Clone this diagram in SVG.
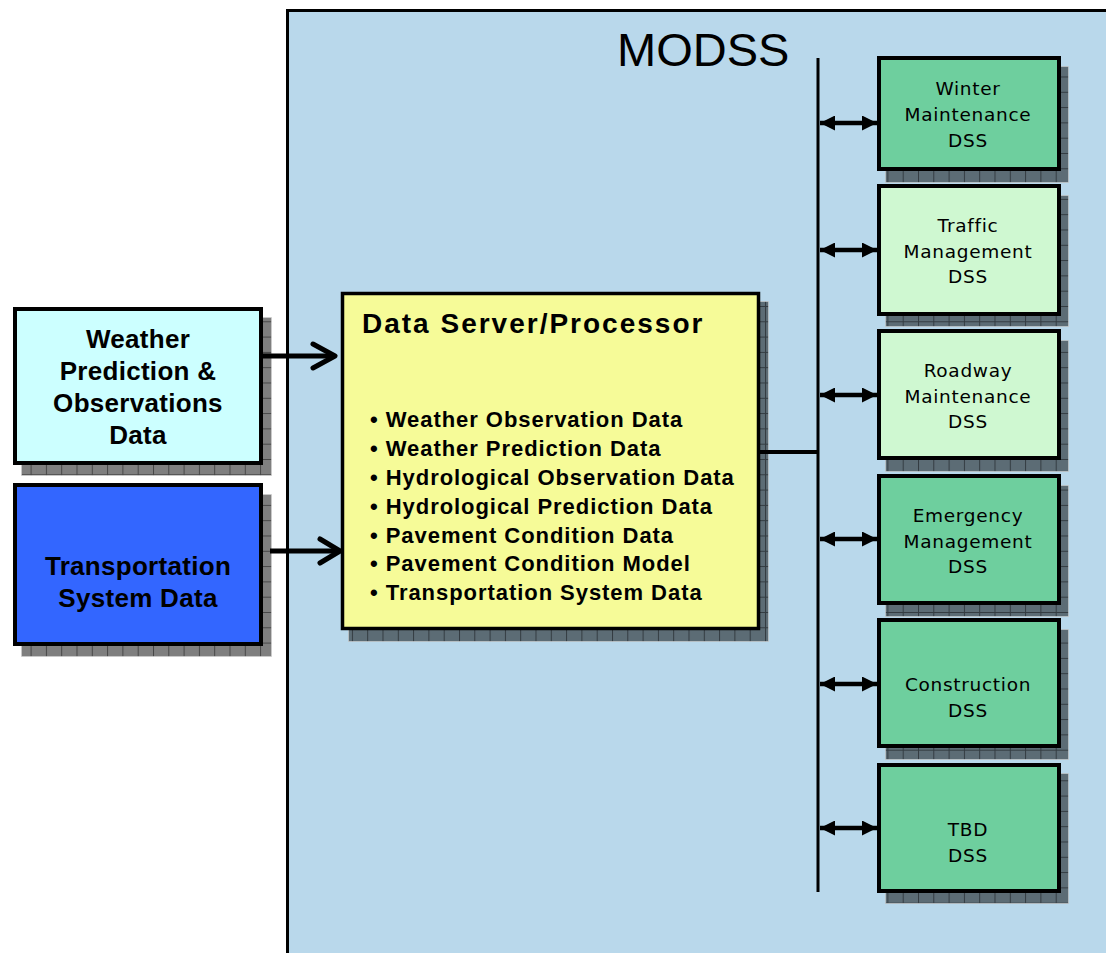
<svg xmlns="http://www.w3.org/2000/svg" width="1106" height="953" viewBox="0 0 1106 953">
<defs>
<pattern id="grid" patternUnits="userSpaceOnUse" width="15.3" height="15.3">
<rect width="15.3" height="15.3" fill="#000" fill-opacity="0.5"/>
<path d="M0 0.5H15.3M0.5 0V15.3" stroke="#000" stroke-opacity="0.45" stroke-width="1" fill="none"/>
</pattern>
<marker id="ah" viewBox="0 0 15 15" refX="15" refY="7.5" markerWidth="15" markerHeight="15" markerUnits="userSpaceOnUse" orient="auto-start-reverse">
<path d="M0 0L15 7.5L0 15Z" fill="#000"/>
</marker>
<style>
.shadow{fill:url(#grid);stroke:#d0d0d0;stroke-opacity:0.6;stroke-width:1}
.box{stroke:#000;stroke-width:4}
.big{font-family:"Liberation Sans",Arial,sans-serif;font-weight:bold;font-size:26px;letter-spacing:0.3px;text-anchor:middle;fill:#000}
.title{font-family:"Liberation Sans",Arial,sans-serif;font-weight:bold;font-size:28px;letter-spacing:2px;fill:#000}
.item{font-family:"Liberation Sans",Arial,sans-serif;font-weight:bold;font-size:22px;letter-spacing:0.95px;fill:#000}
.dss{font-family:"DejaVu Sans",Verdana,sans-serif;font-size:18.5px;letter-spacing:0.7px;text-anchor:middle;fill:#000}
.dark{fill:#6ECF9E}
.light{fill:#CFF8D1}
.conn{stroke:#000;fill:none}
</style>
</defs>
<rect width="1106" height="953" fill="#fff"/>
<g id="modss">
<rect x="287" y="10" width="819" height="943" fill="#B9D8EB"/>
<path d="M287.5 953V10.5H1106" fill="none" stroke="#000" stroke-width="3"/>
<text x="617" y="66" font-family="'Liberation Sans',Arial,sans-serif" font-size="47">MODSS</text>
</g>
<g id="weather">
<rect class="shadow" x="21.5" y="317.5" width="250" height="158"/>
<rect class="box" x="15" y="309" width="246" height="154" fill="#CCFFFF"/>
<text class="big" x="138" y="347.5">Weather</text>
<text class="big" x="138" y="379.5">Prediction &amp;</text>
<text class="big" x="138" y="411.5">Observations</text>
<text class="big" x="138" y="443.5">Data</text>
</g>
<g id="transport">
<rect class="shadow" x="21.5" y="494.5" width="250" height="162"/>
<rect class="box" x="15" y="485" width="246" height="159" fill="#3366FF"/>
<text class="big" x="138" y="575">Transportation</text>
<text class="big" x="138" y="607">System Data</text>
</g>
<g id="server">
<rect class="shadow" x="348.5" y="301.5" width="420" height="340"/>
<rect x="342.5" y="293.5" width="416" height="335" fill="#F6FB98" stroke="#000" stroke-width="3.5"/>
<text class="title" x="362" y="333">Data Server/Processor</text>
<text class="item" x="370" y="427">• Weather Observation Data</text>
<text class="item" x="370" y="456">• Weather Prediction Data</text>
<text class="item" x="370" y="485">• Hydrological Observation Data</text>
<text class="item" x="370" y="514">• Hydrological Prediction Data</text>
<text class="item" x="370" y="543">• Pavement Condition Data</text>
<text class="item" x="370" y="571">• Pavement Condition Model</text>
<text class="item" x="370" y="600">• Transportation System Data</text>
</g>
<g id="winter">
<rect class="shadow" x="885.5" y="66.5" width="183" height="116"/>
<rect class="box dark" x="879" y="58" width="180" height="111"/>
<text class="dss" x="968" y="95">Winter</text>
<text class="dss" x="968" y="121">Maintenance</text>
<text class="dss" x="968" y="147">DSS</text>
</g>
<g id="traffic">
<rect class="shadow" x="885.5" y="195.5" width="183" height="131"/>
<rect class="box light" x="879" y="186" width="180" height="128"/>
<text class="dss" x="968" y="232">Traffic</text>
<text class="dss" x="968" y="258">Management</text>
<text class="dss" x="968" y="283">DSS</text>
</g>
<g id="roadway">
<rect class="shadow" x="885.5" y="340.5" width="183" height="131"/>
<rect class="box light" x="879" y="331" width="180" height="127"/>
<text class="dss" x="968" y="377">Roadway</text>
<text class="dss" x="968" y="403">Maintenance</text>
<text class="dss" x="968" y="428">DSS</text>
</g>
<g id="emergency">
<rect class="shadow" x="885.5" y="485.5" width="183" height="131"/>
<rect class="box dark" x="879" y="476" width="180" height="127"/>
<text class="dss" x="968" y="522">Emergency</text>
<text class="dss" x="968" y="548">Management</text>
<text class="dss" x="968" y="573">DSS</text>
</g>
<g id="construction">
<rect class="shadow" x="885.5" y="629.5" width="183" height="130"/>
<rect class="box dark" x="879" y="620" width="180" height="126"/>
<text class="dss" x="968" y="691">Construction</text>
<text class="dss" x="968" y="717">DSS</text>
</g>
<g id="tbd">
<rect class="shadow" x="885.5" y="773.5" width="183" height="130"/>
<rect class="box dark" x="879" y="765" width="180" height="126"/>
<text class="dss" x="968" y="836">TBD</text>
<text class="dss" x="968" y="862">DSS</text>
</g>
<g id="connectors">
<path class="conn" d="M263 356H333" stroke-width="5"/>
<path class="conn" d="M313 344L335 356L313 368" stroke-width="5" stroke-linecap="round" stroke-linejoin="round"/>
<path class="conn" d="M270 551H338" stroke-width="5"/>
<path class="conn" d="M320 539L340 551L320 563" stroke-width="5" stroke-linecap="round" stroke-linejoin="round"/>
<path class="conn" d="M818 58V892" stroke-width="3"/>
<path class="conn" d="M760 452H818" stroke-width="4"/>
<path class="conn" d="M820 123H877" stroke-width="4.5" marker-start="url(#ah)" marker-end="url(#ah)"/>
<path class="conn" d="M820 250H877" stroke-width="4.5" marker-start="url(#ah)" marker-end="url(#ah)"/>
<path class="conn" d="M820 395H877" stroke-width="4.5" marker-start="url(#ah)" marker-end="url(#ah)"/>
<path class="conn" d="M820 539H877" stroke-width="4.5" marker-start="url(#ah)" marker-end="url(#ah)"/>
<path class="conn" d="M820 684H877" stroke-width="4.5" marker-start="url(#ah)" marker-end="url(#ah)"/>
<path class="conn" d="M820 828H877" stroke-width="4.5" marker-start="url(#ah)" marker-end="url(#ah)"/>
</g>
</svg>
